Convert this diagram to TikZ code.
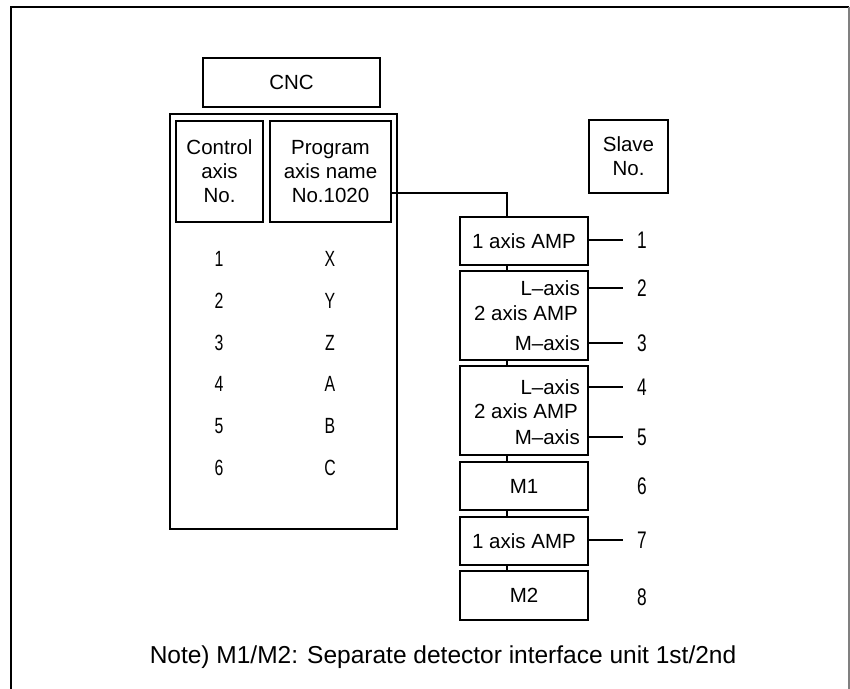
\documentclass[tikz,border=0pt]{standalone}
\usepackage{fontspec}
\setmainfont{Liberation Sans}
\newfontfamily\narrowfont[FakeStretch=0.72]{Liberation Sans}
\begin{document}
\begin{tikzpicture}[x=1pt,y=-1pt,
  box/.style={draw=black,line width=1.3pt,inner sep=0pt,align=center,
    font=\fontsize{20.5}{24}\selectfont},
  lbl/.style={inner sep=0pt,font=\fontsize{20.5}{24}\selectfont},
  num/.style={inner sep=0pt,font=\narrowfont\fontsize{22}{24}\selectfont},
  snum/.style={inner sep=0pt,font=\narrowfont\fontsize{24}{26}\selectfont},
  wire/.style={line width=1.1pt}]
\useasboundingbox (0,0) rectangle (850,688);
% outer frame (open at bottom)
\draw[line width=2pt] (11,700) -- (11,6.5) -- (849,6.5);
\draw[line width=1.5pt,gray] (849,6.5) -- (849,700);
% CNC
\node[box,minimum width=177pt,minimum height=49pt] (cnc) at (291.5,82.5) {CNC};
\node[box,minimum width=227pt,minimum height=415pt] (cncbody) at (283.5,321.5) {};
\node[box,minimum width=87pt,minimum height=101pt] (ctrl) at (219.5,171.5) {Control\\axis\\No.};
\node[box,minimum width=121pt,minimum height=101pt] (prog) at (330.5,171.5) {Program\\axis name\\No.1020};
\node[box,minimum width=79pt,minimum height=73pt] (slave) at (628.5,156.5) {Slave\\No.};
% axis table
\foreach \n/\a [count=\i from 0] in {1/X,2/Y,3/Z,4/A,5/B,6/C}{
  \node[num] (cn\n) at (219,259+41.8*\i) {\n};
  \node[num] (an\n) at (330,259+41.8*\i) {\a};
}
% amplifier chain
\node[box,minimum width=128pt,minimum height=48pt] (amp1) at (524,241) {1 axis AMP};
\node[box,minimum width=128pt,minimum height=89pt] (amp2) at (524,315.5) {};
\node[box,minimum width=128pt,minimum height=89pt] (amp3) at (524,410.5) {};
\node[box,minimum width=128pt,minimum height=48pt] (m1) at (524,486) {M1};
\node[box,minimum width=128pt,minimum height=48pt] (amp7) at (524,541) {1 axis AMP};
\node[box,minimum width=128pt,minimum height=49pt] (m2) at (524,595.5) {M2};
\node[lbl,anchor=east] (l2) at (580,288) {L–axis};
\node[lbl,anchor=east] (t2) at (578,313) {2 axis AMP};
\node[lbl,anchor=east] (mm2) at (580,343) {M–axis};
\node[lbl,anchor=east] (l3) at (580,387) {L–axis};
\node[lbl,anchor=east] (t3) at (578,411) {2 axis AMP};
\node[lbl,anchor=east] (mm3) at (580,437) {M–axis};
% connectors
\coordinate (bus) at (507,0);
\draw[wire] ([yshift=-21.5pt]prog.east) -| (bus |- amp1.north);
\draw[wire] (bus |- amp1.south) -- (bus |- amp2.north);
\draw[wire] (bus |- amp2.south) -- (bus |- amp3.north);
\draw[wire] (bus |- amp3.south) -- (bus |- m1.north);
\draw[wire] (bus |- m1.south) -- (bus |- amp7.north);
\draw[wire] (bus |- amp7.south) -- (bus |- m2.north);
% slave numbers
\node[snum] (s1) at (642,240) {1};
\node[snum] (s2) at (642,288) {2};
\node[snum] (s3) at (642,343) {3};
\node[snum] (s4) at (642,387) {4};
\node[snum] (s5) at (642,437) {5};
\node[snum] (s6) at (642,486) {6};
\node[snum] (s7) at (642,540) {7};
\node[snum] (s8) at (642,597) {8};
\draw[wire] (amp1.east |- s1) -- ++(34,0);
\draw[wire] (amp2.east |- s2) -- ++(34,0);
\draw[wire] (amp2.east |- s3) -- ++(34,0);
\draw[wire] (amp3.east |- s4) -- ++(34,0);
\draw[wire] (amp3.east |- s5) -- ++(34,0);
\draw[wire] (amp7.east |- s7) -- ++(34,0);
% note
\node[inner sep=0pt,font=\fontsize{24.5}{28}\selectfont] (note) at (443,657) {Note) M1/M2: Separate detector interface unit 1st/2nd};
\end{tikzpicture}
\end{document}
